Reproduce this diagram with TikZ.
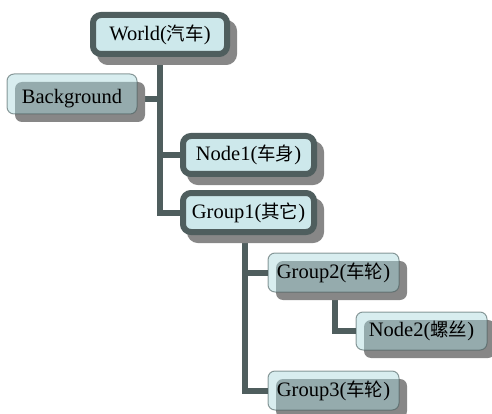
\documentclass[tikz,border=0pt]{standalone}
\usepackage{fontspec}
\setmainfont{Liberation Serif}
\newfontfamily\cjk{Noto Sans CJK SC}[Scale=0.9]
\definecolor{thickborder}{RGB}{79,94,94}
\definecolor{thickfill}{RGB}{205,232,235}
\definecolor{shadowgray}{RGB}{135,135,135}
\definecolor{thinfill}{RGB}{168,216,220}
\definecolor{thinborder}{RGB}{70,90,90}
\definecolor{connc}{RGB}{79,94,94}
\pgfdeclarelayer{bg}
\pgfsetlayers{bg,main}
\tikzset{
  x=1pt,y=-1pt,
  labelfont/.style={font=\fontsize{20.5}{22}\selectfont},
  thicknode/.style={draw=thickborder, line width=6pt, fill=thickfill, rounded corners=8pt,
    minimum width=131pt, minimum height=38pt, inner sep=0pt, labelfont,
    preaction={fill=shadowgray, draw=shadowgray, line width=6pt, transform canvas={shift={(7pt,-8pt)}}}},
  thinnode/.style={draw=thinborder, draw opacity=0.6, line width=1pt, fill=thinfill, fill opacity=0.45, text opacity=1,
    rounded corners=7pt, minimum width=131pt, minimum height=39pt, inner sep=0pt, labelfont,
    preaction={fill=shadowgray, draw=none, fill opacity=1, transform canvas={shift={(8pt,-8pt)}}}},
  conn/.style={draw=connc, line width=6pt},
}
\begin{document}
\begin{tikzpicture}
\useasboundingbox (0,0) rectangle (492,414);
\node[thicknode, minimum width=134pt, minimum height=39pt] (World) at (160,34.5) {World({\cjk 汽车})};
\node[thicknode] (Node1) at (248.5,155) {Node1({\cjk 车身})};
\node[thicknode, minimum height=39pt] (Group1) at (248.5,212.5) {Group1({\cjk 其它})};
\node[thinnode, minimum width=130pt, minimum height=40pt] (Background) at (72,94) {};
\node[labelfont] (bgtext) at (72,99) {Background};
\node[thinnode] (Group2) at (333.5,272.5) {Group2({\cjk 车轮})};
\node[thinnode, minimum height=38pt] (Node2) at (421.5,331) {Node2({\cjk 螺丝})};
\node[thinnode] (Group3) at (333.5,390.5) {Group3({\cjk 车轮})};
\coordinate (trunk) at (160,57);
\coordinate (g1b) at (245,235);
\coordinate (g2b) at (335,292);
\begin{pgfonlayer}{bg}
\draw[conn] (trunk) |- (Group1.west);
\draw[conn] (trunk |- bgtext.east) -- (Background.east |- bgtext.east);
\draw[conn] (trunk |- Node1.west) -- (Node1.west);
\draw[conn] (g1b) |- (Group3.west);
\draw[conn] (g1b |- Group2.west) -- (Group2.west);
\draw[conn] (g2b) |- (Node2.west);
\end{pgfonlayer}
\end{tikzpicture}
\end{document}
